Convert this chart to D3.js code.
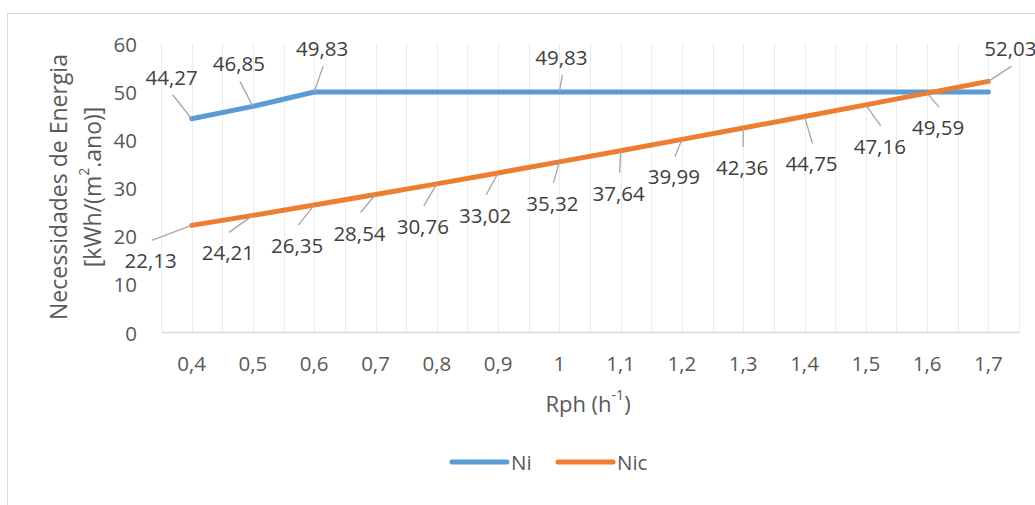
<!DOCTYPE html>
<html>
<head>
<meta charset="utf-8">
<script src="https://cdn.jsdelivr.net/npm/d3@7"></script>
<style>
  html, body { margin: 0; padding: 0; background: #fff; }
  svg { display: block; }
  text { font-family: "Open Sans", "Noto Sans", sans-serif; fill: #595959; }
</style>
</head>
<body>
<svg id="chart" width="1035" height="505"></svg>
<script>
// ---- data ----
const categories = ["0,4","0,5","0,6","0,7","0,8","0,9","1","1,1","1,2","1,3","1,4","1,5","1,6","1,7"];
const niValues  = [44.27, 46.85, 49.83, 49.83, 49.83, 49.83, 49.83, 49.83, 49.83, 49.83, 49.83, 49.83, 49.83, 49.83];
const nicValues = [22.13, 24.21, 26.35, 28.54, 30.76, 33.02, 35.32, 37.64, 39.99, 42.36, 44.75, 47.16, 49.59, 52.03];
const yTicks = [0, 10, 20, 30, 40, 50, 60];
const seriesNames = ["Ni", "Nic"];
// which Ni points carry a data label
const niLabelIdx = [0, 1, 2, 6];

// ---- layout (label offsets relative to their points) ----
const niLabelOffsets  = [[-20,-42],[-14,-43],[8,-44],[2,-35]];
const nicLabelOffsets = [[-41,35],[-25,37],[-17,40],[-16,38],[-14,42],[-13,42],[-7,41],[-2,42],[-8,37],[-1,39],[7,47],[14,41],[11,34],[22,-33]];

const colors = { Ni: "#5B9BD5", Nic: "#ED7D31" };
const fmt = v => v.toFixed(2).replace(".", ",");

const svg = d3.select("#chart");
const plot = { left: 161, right: 1019, top: 43, bottom: 332 };

// chart border
svg.append("rect").attr("x", 7.5).attr("y", 13.5).attr("width", 1200).attr("height", 700)
  .attr("fill", "#fff").attr("stroke", "#d9d9d9").attr("stroke-width", 1);

const x = d3.scaleBand().domain(categories).range([plot.left, plot.right]).paddingInner(0).paddingOuter(0);
const xc = c => x(c) + x.bandwidth() / 2;
const y = d3.scaleLinear().domain([0, 60]).range([plot.bottom, plot.top]);

// vertical gridlines every half category
const gridX = [];
categories.forEach(c => { gridX.push(x(c)); gridX.push(xc(c)); });
gridX.push(plot.right);
svg.append("g").selectAll("line").data(gridX).join("line")
  .attr("x1", d => Math.round(d) + 0.5).attr("x2", d => Math.round(d) + 0.5)
  .attr("y1", y(60)).attr("y2", y(0))
  .attr("stroke", "#ececec").attr("stroke-width", 1);

// x axis
const xAxis = svg.append("g").attr("transform", `translate(0,${y(0)})`)
  .call(d3.axisBottom(x).tickSize(0).tickPadding(0));
xAxis.select(".domain").attr("stroke", "#d9d9d9").attr("stroke-width", 1.3);
xAxis.selectAll("text").attr("font-size", 20.5).attr("fill", "#595959")
  .attr("font-family", '"Open Sans", sans-serif').attr("dy", null)
  .attr("y", 31).attr("dominant-baseline", "central");

// y axis
const yAxis = svg.append("g").attr("transform", `translate(${plot.left},0)`)
  .call(d3.axisLeft(y).tickValues(yTicks).tickSize(0).tickPadding(0));
yAxis.select(".domain").remove();
yAxis.selectAll("text").attr("font-size", 20.5).attr("fill", "#595959")
  .attr("font-family", '"Open Sans", sans-serif').attr("dy", null)
  .attr("x", -24).attr("dominant-baseline", "central");

// axis titles
const yt = svg.append("g").attr("transform", "translate(0,187) rotate(-90)");
yt.append("text").attr("x", 0).attr("y", 58).attr("text-anchor", "middle")
  .attr("dominant-baseline", "central").attr("font-size", 23).text("Necessidades de Energia");
const yt2 = yt.append("text").attr("x", 0).attr("y", 92).attr("text-anchor", "middle")
  .attr("dominant-baseline", "central").attr("font-size", 23);
yt2.append("tspan").text("[kWh/(m");
yt2.append("tspan").attr("font-size", 14).attr("dy", -9).text("2");
yt2.append("tspan").attr("dy", 9).text(".ano)]");

const xt = svg.append("text").attr("x", 588).attr("y", 403).attr("text-anchor", "middle")
  .attr("dominant-baseline", "central").attr("font-size", 22);
xt.append("tspan").text("Rph (h");
xt.append("tspan").attr("font-size", 14).attr("dy", -9).text("-1");
xt.append("tspan").attr("dy", 9).text(")");

// lines
const line = d3.line().x((d, i) => xc(categories[i])).y(d => y(d));
svg.append("path").datum(niValues).attr("d", line).attr("fill", "none")
  .attr("stroke", colors.Ni).attr("stroke-width", 5).attr("stroke-linecap", "round").attr("stroke-linejoin", "round");
svg.append("path").datum(nicValues).attr("d", line).attr("fill", "none")
  .attr("stroke", colors.Nic).attr("stroke-width", 5).attr("stroke-linecap", "round").attr("stroke-linejoin", "round");

// data labels with leader lines
function addLabels(items) {
  const g = svg.append("g");
  items.forEach(it => {
    const px = xc(categories[it.i]), py = y(it.v);
    const lx = px + it.off[0], ly = py + it.off[1];
    const sy = it.off[1] < 0 ? ly + 18 : ly - 20;
    g.append("line").attr("x1", lx + 1).attr("y1", sy).attr("x2", px).attr("y2", py)
      .attr("stroke", "#a6a6a6").attr("stroke-width", 1.3);
    g.append("text").attr("x", lx).attr("y", ly).attr("text-anchor", "middle")
      .attr("dominant-baseline", "central").attr("font-size", 20.5)
      .style("fill", "#404040").text(fmt(it.v));
  });
}
addLabels(niLabelIdx.map((i, k) => ({ i, v: niValues[i], off: niLabelOffsets[k] })));
addLabels(nicValues.map((v, i) => ({ i, v, off: nicLabelOffsets[i] })));

// legend
const legendItems = [
  { name: seriesNames[0], x1: 452, x2: 507 },
  { name: seriesNames[1], x1: 558, x2: 613 }
];
const lg = svg.append("g");
legendItems.forEach(d => {
  lg.append("line").attr("x1", d.x1).attr("x2", d.x2).attr("y1", 462).attr("y2", 462)
    .attr("stroke", colors[d.name]).attr("stroke-width", 5).attr("stroke-linecap", "round");
  lg.append("text").attr("x", d.x2 + 4).attr("y", 462).attr("dominant-baseline", "central")
    .attr("font-size", 20.5).text(d.name);
});
</script>
</body>
</html>
